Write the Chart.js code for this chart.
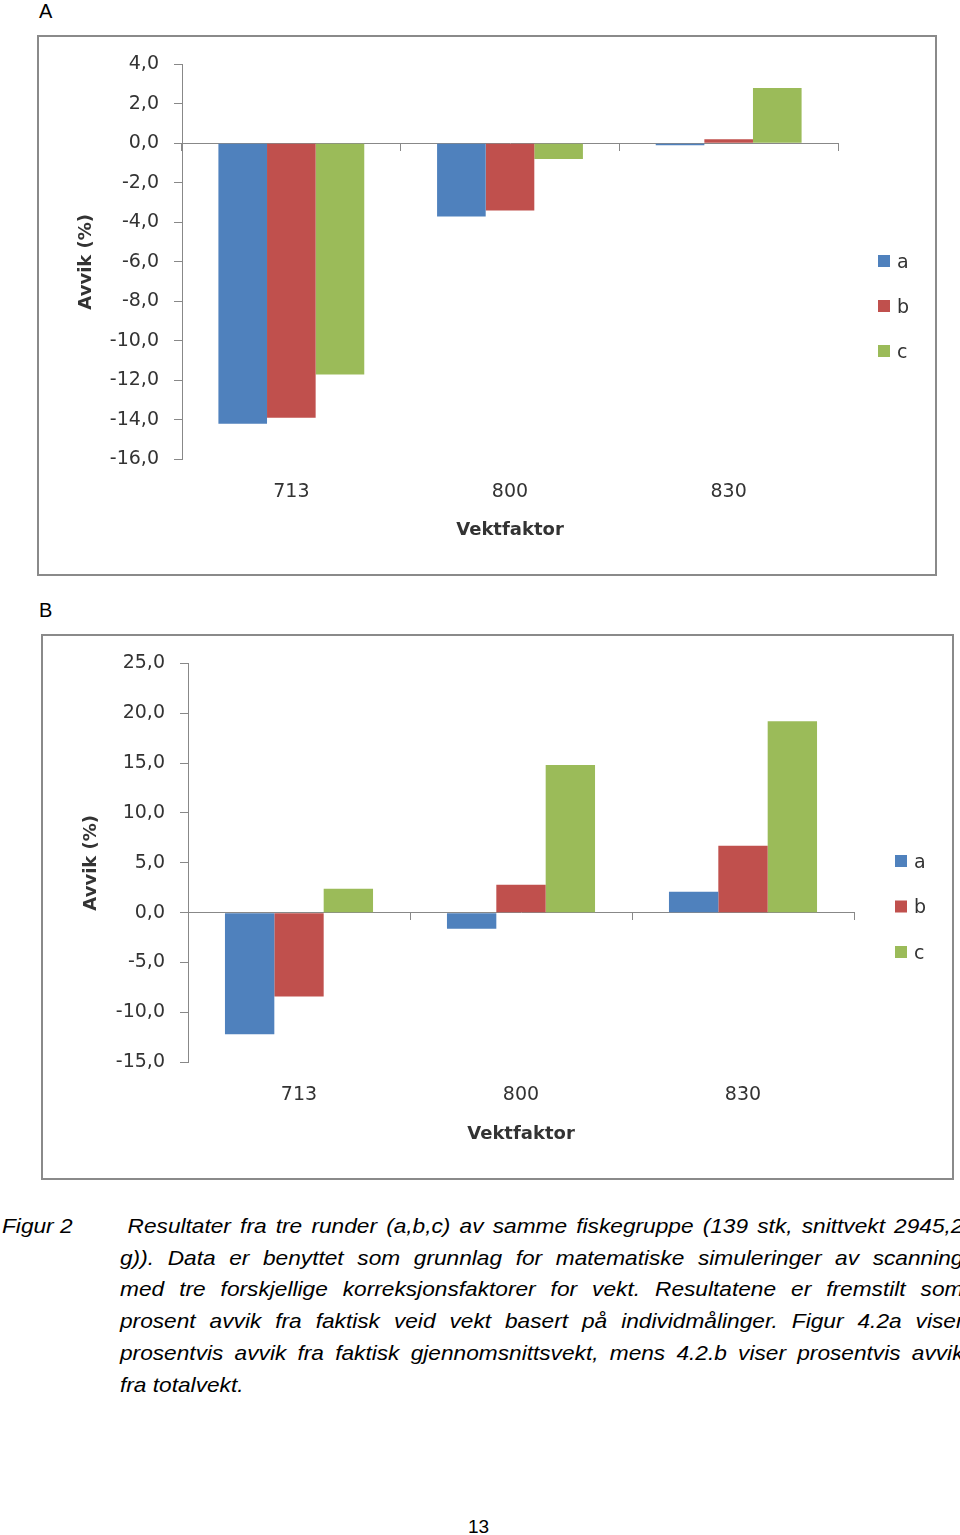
<!DOCTYPE html>
<html><head><meta charset="utf-8">
<script src="https://cdn.jsdelivr.net/npm/chart.js@4.4.1/dist/chart.umd.min.js"></script>
<style>
html,body{margin:0;padding:0;background:#fff;width:960px;height:1535px;overflow:hidden;position:relative;}
.lbl{position:absolute;font-family:"Liberation Sans",Arial,sans-serif;font-size:20px;line-height:20px;color:#000;}
.box{position:absolute;box-sizing:border-box;border:2px solid #8a8a8a;background:#fff;}
.box canvas{position:absolute;left:0;top:0;}
.cap{position:absolute;font-family:"Liberation Sans",Arial,sans-serif;font-style:italic;font-size:21px;line-height:31.7px;color:#000;transform:scaleX(1.08);transform-origin:0 0;white-space:nowrap;}
.line{text-align:justify;text-align-last:justify;white-space:nowrap;}
.pg{position:absolute;font-family:"Liberation Sans",Arial,sans-serif;font-size:19px;line-height:19px;color:#000;}
</style></head><body>
<div class="lbl" style="left:39px;top:1px">A</div>
<div class="box" style="left:37px;top:35px;width:900px;height:541px"><canvas id="cA" width="896" height="537"></canvas></div>
<div class="lbl" style="left:39px;top:600px">B</div>
<div class="box" style="left:41px;top:634px;width:913px;height:546px"><canvas id="cB" width="909" height="542"></canvas></div>

<div class="cap" style="left:2px;top:1210px">Figur 2</div>
<div class="cap" style="left:120px;top:1210px;width:781px">
<div class="line" style="padding-left:7px">Resultater fra tre runder (a,b,c) av samme fiskegruppe (139 stk, snittvekt 2945,2</div>
<div class="line">g)). Data er benyttet som grunnlag for matematiske simuleringer av scanning</div>
<div class="line">med tre forskjellige korreksjonsfaktorer for vekt. Resultatene er fremstilt som</div>
<div class="line">prosent avvik fra faktisk veid vekt basert på individmålinger. Figur 4.2a viser</div>
<div class="line">prosentvis avvik fra faktisk gjennomsnittsvekt, mens 4.2.b viser prosentvis avvik</div>
<div style="text-align:left">fra totalvekt.</div>
</div>
<div class="pg" style="left:468px;top:1517px">13</div>

<script>
const categories = ['713', '800', '830'];
const seriesNames = ['a', 'b', 'c'];
const seriesColors = ['#4F81BD', '#C0504D', '#9BBB59'];

const chartA_a = [-14.2, -3.7, -0.1];
const chartA_b = [-13.9, -3.4, 0.2];
const chartA_c = [-11.7, -0.8, 2.8];

const chartB_a = [-12.2, -1.6, 2.1];
const chartB_b = [-8.4, 2.8, 6.7];
const chartB_c = [2.4, 14.8, 19.2];

const yTicksA = [-16, -14, -12, -10, -8, -6, -4, -2, 0, 2, 4];
const yTicksB = [-15, -10, -5, 0, 5, 10, 15, 20, 25];

const xTitle = 'Vektfaktor';
const yTitle = 'Avvik (%)';

const TXT = '#333333';
const AXC = '#888888';
const tickFont = {family: 'DejaVu Sans', size: 19};
const titleFont = {family: 'DejaVu Sans', size: 18, weight: 'bold'};

const boxLegend = {
  id: 'boxLegend',
  afterDraw(chart, args, o) {
    const ctx = chart.ctx;
    ctx.save();
    ctx.font = '19px "DejaVu Sans"';
    ctx.textBaseline = 'alphabetic';
    ctx.textAlign = 'left';
    chart.data.datasets.forEach((ds, i) => {
      const cy = o.y + i * o.gap;
      ctx.fillStyle = ds.backgroundColor;
      ctx.fillRect(o.x, cy - 6, 12, 12);
      ctx.fillStyle = TXT;
      ctx.fillText(ds.label, o.x + 19, cy + 6.5);
    });
    ctx.restore();
  }
};

function makeChart(id, series, ticks, L) {
  return new Chart(document.getElementById(id), {
    type: 'bar',
    data: {
      labels: categories,
      datasets: series.map((v, i) => ({
        label: seriesNames[i], data: v, backgroundColor: seriesColors[i],
        borderWidth: 0, categoryPercentage: 0.667, barPercentage: 1.0
      }))
    },
    options: {
      responsive: false, animation: false,
      layout: {padding: {left: 0, top: L.top, right: L.right, bottom: 0}},
      plugins: {
        legend: {display: false}, tooltip: {enabled: false},
        boxLegend: {x: L.lx, y: L.ly, gap: L.lgap}
      },
      scales: {
        x: {
          type: 'category', position: 'bottom', offset: true,
          grid: {display: false, drawTicks: false}, border: {display: false},
          ticks: {font: tickFont, color: TXT, padding: 21, maxRotation: 0, autoSkip: false},
          title: {display: true, text: xTitle, font: titleFont, color: TXT, padding: {top: 0, bottom: 33}},
          afterFit(s) { s.height = L.xH; }
        },
        x2: {
          type: 'category', axis: 'x', position: {y: 0}, offset: true,
          grid: {offset: true, drawOnChartArea: false, drawTicks: true, tickLength: 7, color: AXC, lineWidth: 1},
          border: {display: true, color: AXC, width: 1},
          ticks: {display: false}
        },
        y: {
          type: 'linear', position: 'left', min: ticks[0], max: ticks[ticks.length - 1],
          afterBuildTicks(s) { s.ticks = ticks.map(v => ({value: v})); },
          ticks: {font: tickFont, color: TXT, padding: 15, callback: v => Number(v).toFixed(1).replace('.', ',')},
          grid: {drawOnChartArea: false, drawTicks: true, tickLength: 8, color: AXC, lineWidth: 1},
          border: {display: true, color: AXC, width: 1},
          title: {display: true, text: yTitle, font: titleFont, color: TXT, padding: {top: L.yTP, bottom: 0}},
          afterFit(s) { s.width = L.yW; }
        }
      }
    },
    plugins: [boxLegend]
  });
}

makeChart('cA', [chartA_a, chartA_b, chartA_c], yTicksA,
  {top: 27.3, right: 97, yW: 143, xH: 114.7, yTP: 37, lx: 839, ly: 224, lgap: 45});
makeChart('cB', [chartB_a, chartB_b, chartB_c], yTicksB,
  {top: 27.3, right: 98, yW: 145, xH: 115.7, yTP: 38, lx: 852, ly: 225, lgap: 45.5});
</script>
</body></html>
